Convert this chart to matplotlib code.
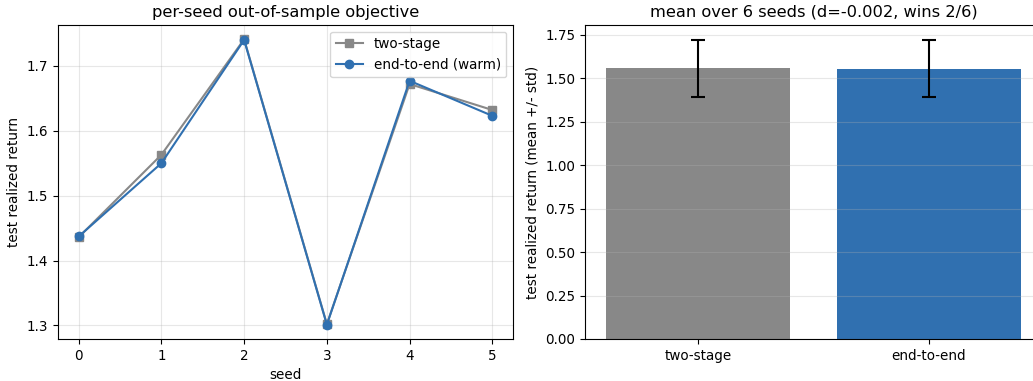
import numpy as np
import matplotlib
matplotlib.use("Agg")
import matplotlib.pyplot as plt

seeds = [0, 1, 2, 3, 4, 5]
two_stage = [1.436, 1.563, 1.741, 1.302, 1.672, 1.632]
end_to_end = [1.437, 1.550, 1.740, 1.301, 1.677, 1.623]
bar_labels = ["two-stage", "end-to-end"]
left_title = "per-seed out-of-sample objective"
right_title = "mean over 6 seeds (d=-0.002, wins 2/6)"

GRAY = "#888888"
BLUE = "#3070b0"

plt.rcParams["font.size"] = 9.75

fig = plt.figure(figsize=(10.33, 3.81), dpi=100)
W, H = 1033, 381
ax1 = fig.add_axes([58 / W, 1 - 339 / H, (513 - 58) / W, (339 - 25) / H])
ax2 = fig.add_axes([585 / W, 1 - 339 / H, (1042 - 585) / W, (339 - 25) / H])

ax1.plot(seeds, two_stage, marker="s", color=GRAY, label="two-stage", ms=6)
ax1.plot(seeds, end_to_end, marker="o", color=BLUE, label="end-to-end (warm)", ms=6)
ax1.set_xlabel("seed")
ax1.set_ylabel("test realized return")
ax1.set_title(left_title, fontsize=11.7)
ax1.set_xticks(seeds)
ax1.grid(True, alpha=0.3)
ax1.legend(loc="upper right")

means = [np.mean(two_stage), np.mean(end_to_end)]
stds = [np.std(two_stage, ddof=1), np.std(end_to_end, ddof=1)]
ax2.bar(bar_labels, means, yerr=stds, color=[GRAY, BLUE], capsize=5,
        error_kw=dict(ecolor="black", elinewidth=1.5, capthick=1.5))
ax2.set_ylabel("test realized return (mean +/- std)")
ax2.set_title(right_title, fontsize=11.7)
ax2.grid(True, axis="y", alpha=0.3)

fig.savefig("out.png", dpi=100)
